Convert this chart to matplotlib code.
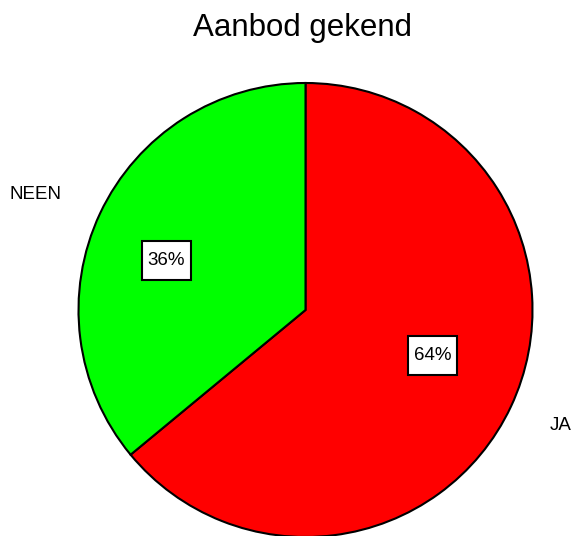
import numpy as np
import matplotlib.pyplot as plt
from matplotlib.path import Path

plt.rcParams['font.family'] = ['Liberation Sans', 'DejaVu Sans']

# data
labels = ['JA', 'NEEN']
values = [64, 36]
colors = ['#ff0000', '#00ff00']


def label_box(x0, y0, width, height, mutation_size):
    # plain rectangle, wider padding top/bottom than left/right
    px, py = 0.3 * mutation_size, 0.6 * mutation_size
    x0, y0 = x0 - px, y0 - py
    x1, y1 = x0 + width + 2 * px, y0 + height + 2 * py
    return Path([(x0, y0), (x1, y0), (x1, y1), (x0, y1), (x0, y0)], closed=True)


fig = plt.figure(figsize=(5.73, 5.36), dpi=100)
ax = fig.add_axes([78.5 / 573, -1 / 536, 454 / 573, 454 / 536])

wedges, texts, autotexts = ax.pie(
    values, labels=labels, colors=colors, startangle=90, counterclock=False,
    autopct='%1.0f%%', pctdistance=0.62, labeldistance=1.19,
    wedgeprops=dict(edgecolor='black', linewidth=1.5),
    textprops=dict(fontsize=13.5))

# percentage boxes sit a little off the wedge middle, like the original tool did
pct_dist = [0.595, 0.65]
for w, t, d in zip(wedges, autotexts, pct_dist):
    ang = np.deg2rad((w.theta1 + w.theta2) / 2 + 5.5)
    t.set_position((d * np.cos(ang), d * np.sin(ang)))
    t.set_fontsize(13.5)
    t.set_bbox(dict(boxstyle=label_box, facecolor='white', edgecolor='black', linewidth=1.5))

ax.set_xlim(-1, 1)
ax.set_ylim(-1, 1)
ax.set_aspect('equal')
ax.axis('off')

fig.text(0.528, 500 / 536, 'Aanbod gekend', ha='center', va='baseline', fontsize=22.5)

fig.savefig('out.png', dpi=100)
